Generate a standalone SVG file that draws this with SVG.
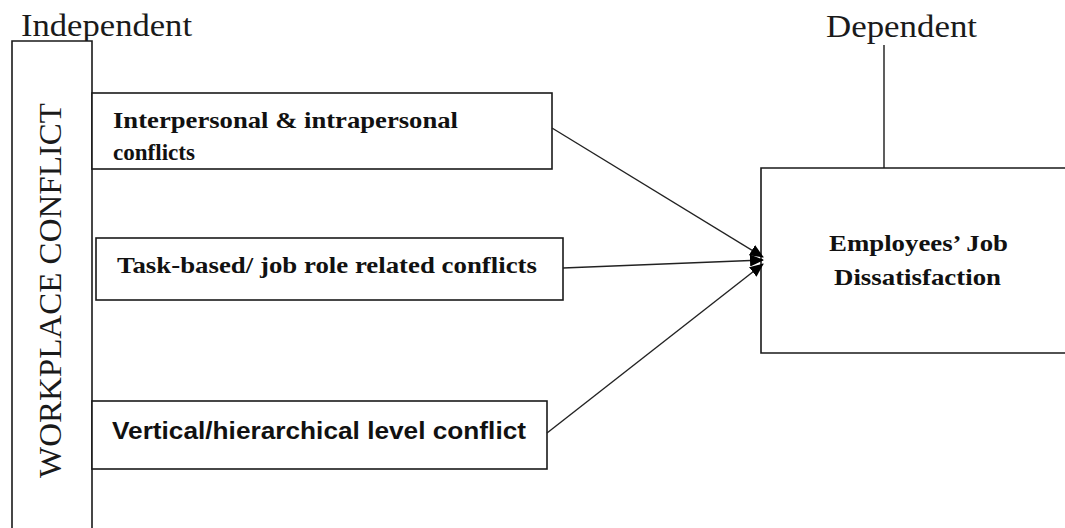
<svg xmlns="http://www.w3.org/2000/svg" width="1065" height="528" viewBox="0 0 1065 528">
<style>
.box{fill:#fff;stroke:#1a1a1a;stroke-width:1.6}
.hdr{font-family:"Liberation Serif",serif;font-size:32px;fill:#1a1a1a}
.bs{font-family:"Liberation Serif",serif;font-weight:bold;font-size:23.5px;fill:#111}
.bsans{font-family:"Liberation Sans",sans-serif;font-weight:bold;font-size:24px;fill:#111}
.conn{stroke:#222;stroke-width:1.4;fill:none;marker-end:url(#ah)}
</style>
<defs>
<marker id="ah" viewBox="0 0 14 12" refX="13" refY="6" markerWidth="14" markerHeight="12" markerUnits="userSpaceOnUse" orient="auto">
<path d="M0,0 L14,6 L0,12 Z" fill="#000"/>
</marker>
</defs>
<rect width="1065" height="528" fill="#fff"/>
<text class="hdr" x="21" y="36" textLength="171" lengthAdjust="spacingAndGlyphs">Independent</text>
<text class="hdr" x="826" y="37" textLength="151" lengthAdjust="spacingAndGlyphs">Dependent</text>
<g id="workplace-conflict">
<path class="box" d="M12,540 L12,41 L92,41 L92,540"/>
<text class="hdr" transform="translate(61,290.5) rotate(-90)" text-anchor="middle" textLength="375" lengthAdjust="spacingAndGlyphs" style="font-size:31px">WORKPLACE CONFLICT</text>
</g>
<g id="interpersonal">
<rect class="box" x="92" y="93" width="460" height="76"/>
<text class="bs" x="113" y="128" textLength="345" lengthAdjust="spacingAndGlyphs">Interpersonal &amp; intrapersonal</text>
<text class="bs" x="113" y="160" textLength="82" lengthAdjust="spacingAndGlyphs">conflicts</text>
</g>
<g id="task-based">
<rect class="box" x="96" y="238" width="467" height="62"/>
<text class="bs" x="117" y="273" textLength="420" lengthAdjust="spacingAndGlyphs">Task-based/ job role related conflicts</text>
</g>
<g id="vertical">
<rect class="box" x="92" y="401" width="455" height="68"/>
<text class="bsans" x="112" y="439" textLength="414" lengthAdjust="spacingAndGlyphs">Vertical/hierarchical level conflict</text>
</g>
<g id="job-dissatisfaction">
<path class="box" d="M1070,168 L761,168 L761,353 L1070,353"/>
<line x1="884" y1="45" x2="884" y2="168" stroke="#1a1a1a" stroke-width="1.4"/>
<text class="bs" x="829" y="251" textLength="179" lengthAdjust="spacingAndGlyphs">Employees’ Job</text>
<text class="bs" x="834" y="285" textLength="167" lengthAdjust="spacingAndGlyphs">Dissatisfaction</text>
</g>
<g id="connectors">
<line class="conn" x1="552" y1="128" x2="763" y2="257"/>
<line class="conn" x1="563" y1="268" x2="763" y2="260"/>
<line class="conn" x1="547" y1="433" x2="763" y2="264"/>
</g>
</svg>
